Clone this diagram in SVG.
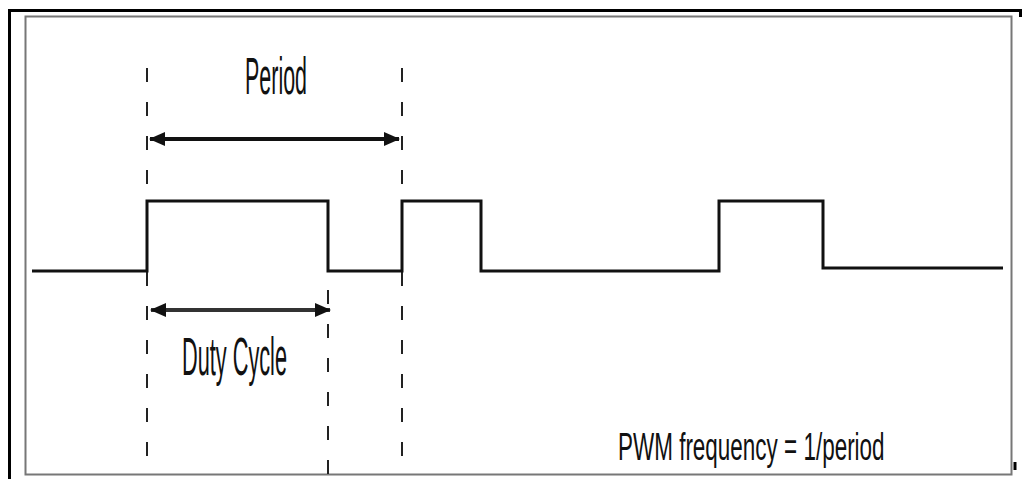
<svg xmlns="http://www.w3.org/2000/svg" width="1022" height="479" viewBox="0 0 1022 479">
<style>
.sig{fill:none;stroke:#111;stroke-width:3}
.dash{fill:none;stroke:#222;stroke-width:2;stroke-dasharray:14 20}
.arr{stroke:#111;stroke-width:4}
.lbl{font-family:"Liberation Sans",Arial,sans-serif;fill:#111}
</style>
<defs>
<marker id="ah" markerWidth="16" markerHeight="14" refX="15" refY="7" orient="auto-start-reverse" markerUnits="userSpaceOnUse">
<path d="M0,0 L16,7 L0,14 Z" fill="#111"/>
</marker>
</defs>
<rect width="1022" height="479" fill="#fff"/>
<g id="frame">
<path d="M9.5,479 V10.5 H1020.5 V17" fill="none" stroke="#000" stroke-width="3"/>
<rect x="25.5" y="16.5" width="986" height="458" fill="none" stroke="#777" stroke-width="2"/>
<path d="M1015,462 V470" stroke="#000" stroke-width="3"/>
</g>
<g id="connectors">
<path class="dash" d="M147,68 V475"/>
<path class="dash" d="M402,68 V475"/>
<path class="dash" d="M328,290 V475"/>
<line class="arr" x1="150" y1="139" x2="399" y2="139" marker-start="url(#ah)" marker-end="url(#ah)"/>
<line class="arr" x1="151" y1="310" x2="330" y2="310" marker-start="url(#ah)" marker-end="url(#ah)" style="stroke:#333"/>
</g>
<g id="signal">
<path class="sig" d="M32,271 H147 V201 H328 V271 H402 V201 H481 V271 H719 V201 H823 V268 H1003"/>
</g>
<g id="period-label">
<text class="lbl" x="245" y="94" font-size="52" textLength="62" lengthAdjust="spacingAndGlyphs">Period</text>
</g>
<g id="duty-label">
<text class="lbl" x="182" y="375" font-size="54" textLength="105" lengthAdjust="spacingAndGlyphs">Duty Cycle</text>
</g>
<g id="freq-label">
<text class="lbl" transform="translate(618,460) scale(0.62,1)" x="0" y="0" font-size="38" textLength="430" lengthAdjust="spacingAndGlyphs">PWM frequency = 1/period</text>
</g>
</svg>
